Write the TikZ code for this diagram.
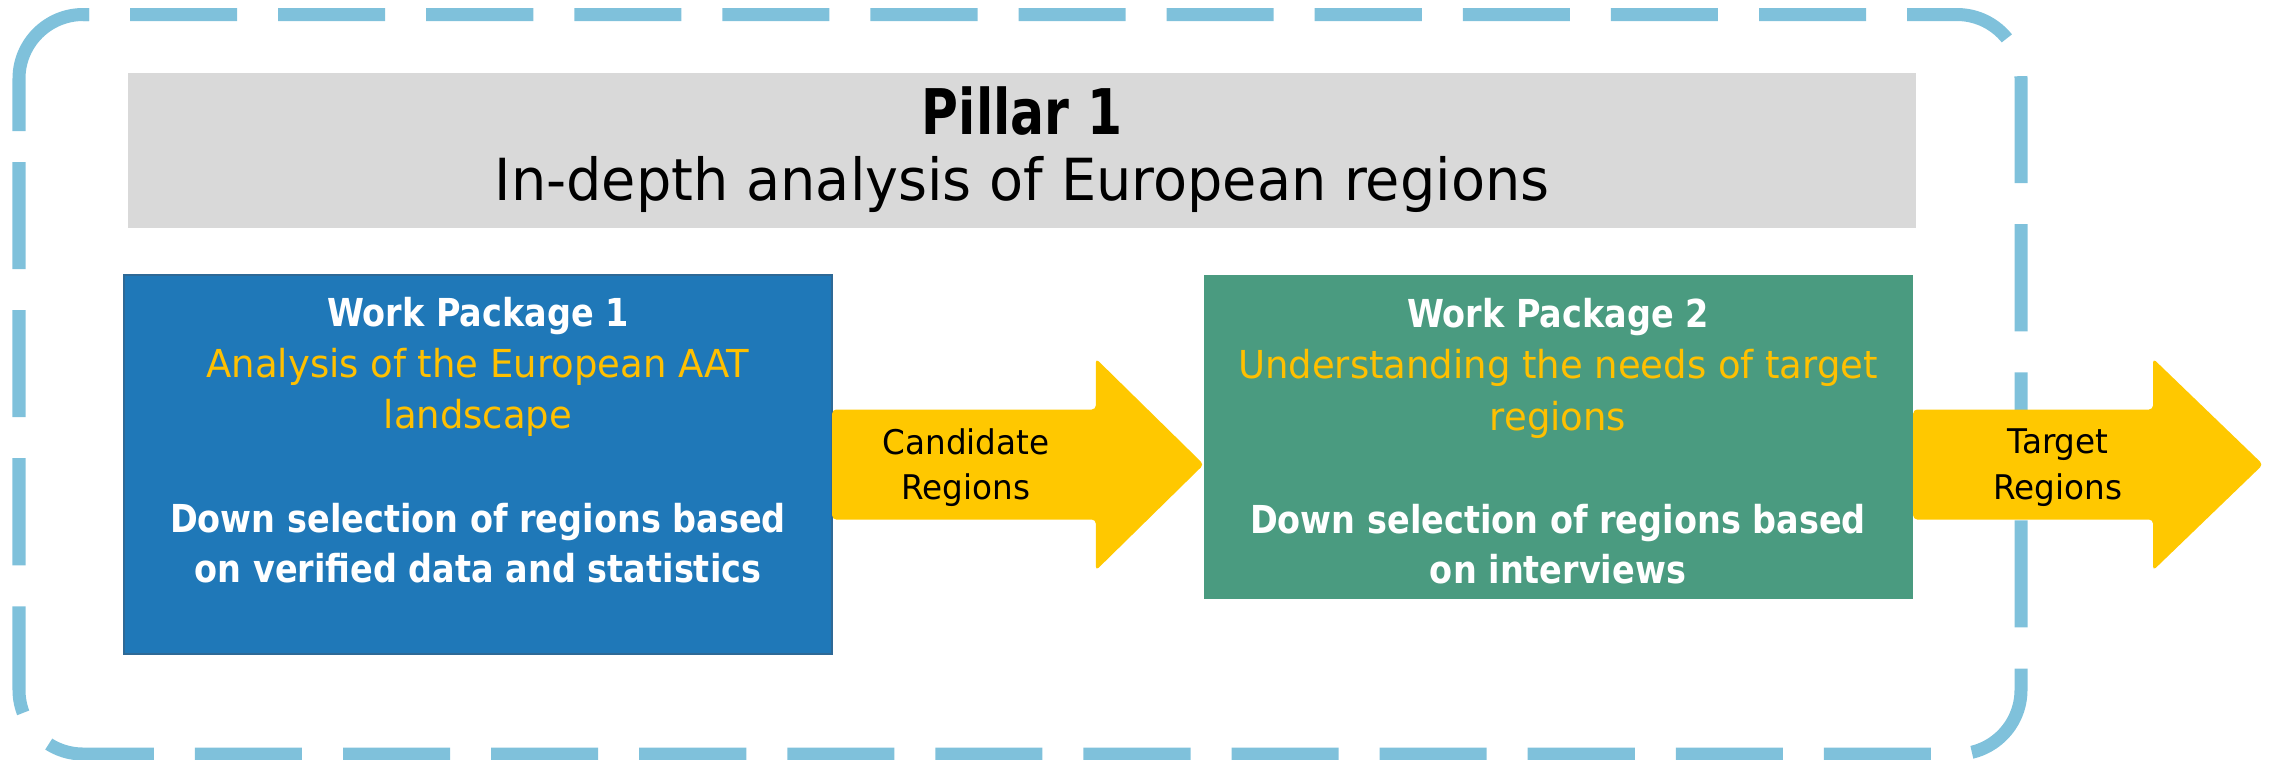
\documentclass[tikz,border=0pt]{standalone}
\usepackage{fontspec}
\setmainfont{DejaVu Sans}
\newfontfamily\fR[FakeStretch=0.96]{DejaVu Sans}
\newfontfamily\fB[FakeStretch=0.87]{DejaVu Sans}
\newfontfamily\fP[FakeStretch=0.80]{DejaVu Sans}
\usetikzlibrary{calc}
\definecolor{borderblue}{RGB}{127,193,219}
\definecolor{titlegray}{RGB}{217,217,217}
\definecolor{wpblue}{RGB}{31,120,184}
\definecolor{wpblueedge}{RGB}{46,105,150}
\definecolor{wpgreen}{RGB}{74,155,128}
\definecolor{arrowyellow}{RGB}{255,200,0}
\definecolor{textyellow}{RGB}{255,192,0}
\begin{document}
\begin{tikzpicture}[x=0.01cm,y=-0.01cm,
  box/.style={rectangle, inner sep=0pt, outer sep=0pt},
  txt/.style={anchor=base, inner sep=0pt, outer sep=0pt},
  wphead/.style={txt, text=white, font=\fB\bfseries\fontsize{10.95}{13}\selectfont},
  wpsub/.style={txt, text=textyellow, font=\fR\fontsize{10.95}{13}\selectfont},
  wpbody/.style={txt, text=white, font=\fB\bfseries\fontsize{10.95}{13}\selectfont},
  arrowtxt/.style={txt, text=black, font=\fR\fontsize{9.67}{12}\selectfont},
  bigarrow/.style={fill=arrowyellow, rounded corners=0.04cm},
  border/.style={draw=borderblue, line width=0.13cm}
]
\useasboundingbox (0,0) rectangle (2275,759);

% dashed frame
\draw[border, rounded corners=0.64cm, dash pattern=on 1.07cm off 0.41cm, dash phase=1.01cm]
  (83,14.5) -- (2021,14.5) -- (2021,754) -- (19,754) -- (19,131);
\draw[border, rounded corners=0.64cm] (19,131) -- (19,14.5) -- (89,14.5);

% title
\node[box, fill=titlegray, minimum width=17.86cm, minimum height=1.55cm] (title) at (1022,150.5) {};
\node[txt, font=\fP\bfseries\fontsize{17.9}{20}\selectfont] (pillar) at (1022,134) {Pillar 1};
\node[txt, font=\fR\fontsize{16.5}{20}\selectfont] (subtitle) at (1022,200) {In-depth analysis of European regions};

% work packages
\node[box, fill=wpblue, draw=wpblueedge, line width=0.02cm, minimum width=7.08cm, minimum height=3.79cm] (wp1) at (478,464.5) {};
\node[box, fill=wpgreen, minimum width=7.09cm, minimum height=3.24cm] (wp2) at (1558.5,437) {};

% arrows
\coordinate (a1s) at (wp1.east);
\coordinate (a1t) at (wp2.west |- wp1.east);
\fill[bigarrow] ($(a1s)+(0,-55)$) -- ($(a1t)+(-108,-55)$) -- ($(a1t)+(-108,-106)$) -- (a1t)
  -- ($(a1t)+(-108,106)$) -- ($(a1t)+(-108,55)$) -- ($(a1s)+(0,55)$) -- cycle;
\coordinate (a2s) at (wp2.east |- wp1.east);
\coordinate (a2t) at (2263,464.5);
\fill[bigarrow] ($(a2s)+(0,-55)$) -- ($(a2t)+(-110,-55)$) -- ($(a2t)+(-110,-106)$) -- (a2t)
  -- ($(a2t)+(-110,106)$) -- ($(a2t)+(-110,55)$) -- ($(a2s)+(0,55)$) -- cycle;

% texts in WP1
\node[wphead] (wp1a) at (478,326) {Work Package 1};
\node[wpsub]  (wp1b) at (478,377) {Analysis of the European AAT};
\node[wpsub]  (wp1c) at (478,428) {landscape};
\node[wpbody] (wp1d) at (478,532) {Down selection of regions based};
\node[wpbody] (wp1e) at (478,582) {on verified data and statistics};

% texts in WP2
\node[wphead] (wp2a) at (1558,327) {Work Package 2};
\node[wpsub]  (wp2b) at (1558,378) {Understanding the needs of target};
\node[wpsub]  (wp2c) at (1558,430) {regions};
\node[wpbody] (wp2d) at (1558,533) {Down selection of regions based};
\node[wpbody] (wp2e) at (1558,583) {on interviews};

% arrow labels
\node[arrowtxt] (c1) at (966,454) {Candidate};
\node[arrowtxt] (c2) at (966,499) {Regions};
\node[arrowtxt] (t1) at (2058,453) {Target};
\node[arrowtxt] (t2) at (2058,499) {Regions};
\end{tikzpicture}
\end{document}
